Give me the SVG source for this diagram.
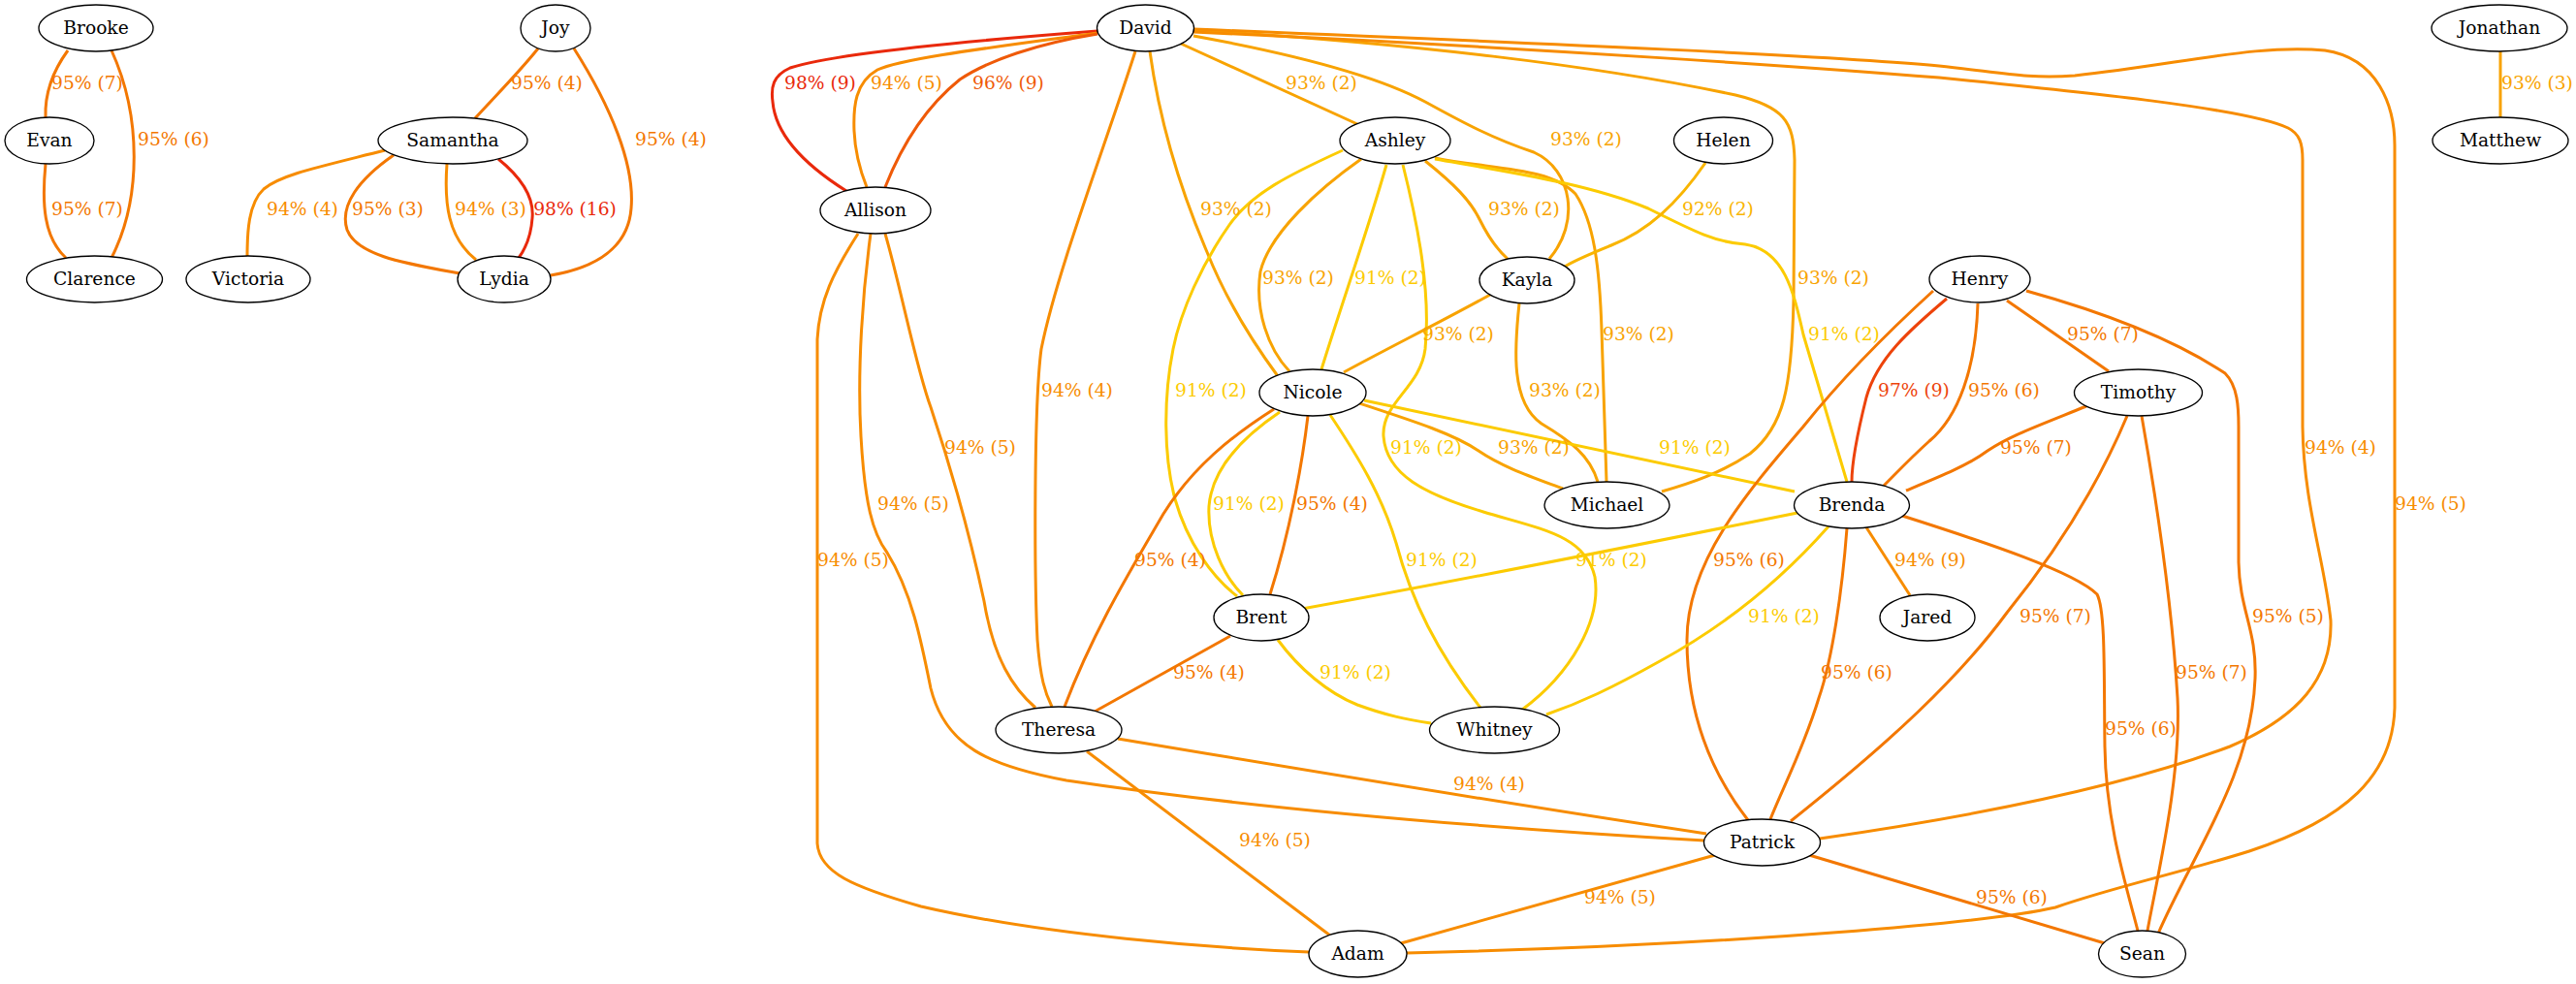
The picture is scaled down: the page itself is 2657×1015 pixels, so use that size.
<svg xmlns="http://www.w3.org/2000/svg" width="2657" height="1015" viewBox="0 0 2657 1015">
<style>
.n ellipse{fill:#fff;stroke:#000;stroke-width:1.33}
.n text{font-family:"DejaVu Serif",serif;font-size:18.67px;text-anchor:middle;fill:#000}
#edges path{fill:none;stroke-width:3}
#labels text{font-family:"DejaVu Serif",serif;font-size:18.67px;text-anchor:middle}
.c91{stroke:#fccb00}.c92{stroke:#f9b500}.c93{stroke:#f8a300}.c94{stroke:#f78c00}.c95{stroke:#f37700}.c96{stroke:#ef5a08}.c97{stroke:#ed430a}.c98{stroke:#e9290b}
.t91{fill:#fccb00}.t92{fill:#f9b500}.t93{fill:#f8a300}.t94{fill:#f78c00}.t95{fill:#f37700}.t96{fill:#ef5a08}.t97{fill:#ed430a}.t98{fill:#e9290b}
</style>
<rect width="2657" height="1015" fill="#fff"/>
<g id="edges">
<path class="c95" d="M70,52 C54,74 46,96 47,121"/>
<path class="c95" d="M115,52 C146,120 146,205 115,266"/>
<path class="c95" d="M47,169 C43,210 45,245 68,266"/>
<path class="c95" d="M555,50 C535,75 510,100 490,122"/>
<path class="c95" d="M592,50 C630,110 655,170 651,215 C648,255 615,276 568,284"/>
<path class="c94" d="M397,155 C330,172 290,180 272,195 C256,210 255,240 255,264"/>
<path class="c95" d="M406,160 C370,185 350,212 358,237 C368,264 420,272 474,282"/>
<path class="c94" d="M461,169 C458,210 462,245 491,268"/>
<path class="c98" d="M514,164 C540,185 551,205 549,225 C548,240 543,255 535,266"/>
<path class="c93" d="M2579,53 L2579,121"/>
<path class="c98" d="M1132,32 C1000,42 860,55 815,70 C797,78 795,90 797,105 C800,140 830,170 873,197"/>
<path class="c94" d="M1132,34 C1030,48 930,60 905,72 C882,85 880,110 881,135 C882,160 888,178 894,193"/>
<path class="c96" d="M1132,35 C1070,45 1020,62 990,82 C955,110 930,150 913,193"/>
<path class="c93" d="M1218,45 L1400,128"/>
<path class="c93" d="M1231,37 C1330,55 1420,78 1470,105 C1510,127 1540,143 1582,157 C1622,175 1630,230 1598,267"/>
<path class="c93" d="M1186,53 C1196,125 1215,190 1245,260 C1265,310 1290,350 1318,388"/>
<path class="c94" d="M1171,53 C1140,150 1090,280 1074,360 C1066,420 1067,600 1070,660 C1073,700 1078,715 1085,729"/>
<path class="c93" d="M1231,31 C1450,44 1650,68 1790,98 C1840,110 1850,125 1851,165 L1850,310 C1848,400 1840,440 1805,468 C1775,488 1745,498 1714,507"/>
<path class="c94" d="M1231,33 C1600,50 1900,72 2000,80 C2150,95 2318,112 2360,132 C2372,138 2375,148 2375,165 L2375,440 C2376,520 2398,580 2404,640 C2406,700 2370,740 2300,770 C2200,808 2050,840 1877,865"/>
<path class="c94" d="M1231,30 C1600,45 1900,58 2000,68 C2060,74 2090,82 2140,78 C2250,66 2330,45 2398,52 C2453,60 2470,110 2470,150 L2470,730 C2468,800 2420,845 2320,878 C2250,900 2180,915 2120,936 C2060,950 1800,975 1451,983"/>
<path class="c93" d="M1470,166 C1500,190 1517,207 1527,228 C1536,246 1545,258 1555,267"/>
<path class="c93" d="M1404,164 C1360,195 1310,240 1300,280 C1294,320 1308,360 1330,383"/>
<path class="c91" d="M1430,170 C1410,240 1385,310 1363,381"/>
<path class="c91" d="M1385,155 C1330,180 1290,200 1268,232 C1240,272 1218,320 1210,360 C1200,410 1200,470 1212,515 C1225,560 1250,595 1276,615"/>
<path class="c91" d="M1447,170 C1462,230 1476,300 1470,360 C1465,400 1425,415 1427,450 C1430,490 1470,510 1530,528 C1590,546 1635,552 1645,595 C1652,640 1620,695 1570,732"/>
<path class="c93" d="M1480,163 C1540,175 1598,172 1625,200 C1645,230 1650,280 1652,340 L1657,497"/>
<path class="c91" d="M1480,164 C1560,178 1640,190 1700,215 C1750,240 1770,250 1800,252 C1840,258 1850,300 1860,345 L1905,497"/>
<path class="c92" d="M1759,168 C1730,210 1700,238 1662,253 C1640,262 1625,268 1614,275"/>
<path class="c93" d="M1537,304 C1490,330 1430,360 1386,384"/>
<path class="c93" d="M1567,313 C1562,360 1558,415 1590,437 C1620,455 1640,470 1648,497"/>
<path class="c93" d="M1402,416 C1460,435 1500,448 1525,465 C1550,482 1580,492 1612,504"/>
<path class="c91" d="M1407,413 L1851,507"/>
<path class="c95" d="M1349,429 C1343,480 1330,550 1310,613"/>
<path class="c91" d="M1320,425 C1280,452 1250,485 1247,522 C1245,560 1263,595 1282,614"/>
<path class="c95" d="M1314,422 C1270,450 1230,482 1200,530 C1168,585 1128,650 1098,729"/>
<path class="c91" d="M1372,428 C1400,470 1425,510 1440,560 C1456,620 1482,672 1527,730"/>
<path class="c97" d="M2008,308 C1970,340 1936,370 1925,410 C1915,450 1910,480 1910,497"/>
<path class="c95" d="M2040,313 C2038,380 2020,430 1990,455 C1970,473 1956,488 1943,501"/>
<path class="c95" d="M2070,310 L2175,383"/>
<path class="c95" d="M1994,300 C1950,340 1900,390 1860,440 C1800,510 1740,580 1740,660 C1740,750 1775,810 1803,846"/>
<path class="c95" d="M2090,300 C2180,325 2250,355 2295,385 C2308,398 2309,420 2309,440 L2309,580 C2310,630 2328,650 2326,700 C2322,800 2262,880 2226,963"/>
<path class="c95" d="M2152,419 C2100,440 2072,450 2050,465 C2030,480 2000,492 1966,506"/>
<path class="c95" d="M2194,429 C2160,510 2112,580 2070,632 C2020,700 1950,765 1847,847"/>
<path class="c95" d="M2209,429 C2225,520 2240,620 2246,720 C2250,800 2226,900 2215,960"/>
<path class="c91" d="M1854,529 C1700,560 1500,600 1343,628"/>
<path class="c94" d="M1925,544 L1970,614"/>
<path class="c91" d="M1886,543 C1840,595 1780,645 1712,682 C1662,710 1630,725 1595,737"/>
<path class="c95" d="M1905,545 C1900,610 1890,680 1876,720 C1861,770 1840,810 1826,845"/>
<path class="c95" d="M1962,532 C2050,560 2140,590 2163,613 C2172,630 2170,700 2171,770 C2172,850 2195,920 2205,960"/>
<path class="c94" d="M913,241 C930,300 945,380 960,420 C980,480 1000,550 1015,620 C1025,680 1045,710 1068,730"/>
<path class="c94" d="M898,241 C890,300 884,380 888,450 C892,520 900,550 915,570 C940,610 950,660 960,710 C975,770 1020,790 1100,805 C1300,835 1550,855 1758,867"/>
<path class="c94" d="M885,241 C860,280 845,310 843,350 L843,870 C845,900 880,915 950,935 C1080,965 1250,978 1350,982"/>
<path class="c95" d="M1269,656 L1129,734"/>
<path class="c91" d="M1318,660 C1340,690 1370,715 1400,727 C1430,738 1450,742 1476,746"/>
<path class="c94" d="M1153,762 C1350,795 1560,830 1760,860"/>
<path class="c94" d="M1121,775 L1372,965"/>
<path class="c94" d="M1769,882 L1445,973"/>
<path class="c95" d="M1866,882 L2171,973"/>
</g>
<g id="labels">
<text class="t95" x="90" y="92">95% (7)</text>
<text class="t95" x="179" y="150">95% (6)</text>
<text class="t95" x="90" y="222">95% (7)</text>
<text class="t95" x="564" y="92">95% (4)</text>
<text class="t95" x="692" y="150">95% (4)</text>
<text class="t94" x="312" y="222">94% (4)</text>
<text class="t95" x="400" y="222">95% (3)</text>
<text class="t94" x="506" y="222">94% (3)</text>
<text class="t98" x="593" y="222">98% (16)</text>
<text class="t93" x="2617" y="92">93% (3)</text>
<text class="t98" x="846" y="92">98% (9)</text>
<text class="t94" x="935" y="92">94% (5)</text>
<text class="t96" x="1040" y="92">96% (9)</text>
<text class="t93" x="1363" y="92">93% (2)</text>
<text class="t93" x="1636" y="150">93% (2)</text>
<text class="t93" x="1275" y="222">93% (2)</text>
<text class="t93" x="1572" y="222">93% (2)</text>
<text class="t92" x="1772" y="222">92% (2)</text>
<text class="t93" x="1339" y="293">93% (2)</text>
<text class="t91" x="1434" y="293">91% (2)</text>
<text class="t93" x="1891" y="293">93% (2)</text>
<text class="t93" x="1504" y="351">93% (2)</text>
<text class="t93" x="1690" y="351">93% (2)</text>
<text class="t91" x="1902" y="351">91% (2)</text>
<text class="t95" x="2169" y="351">95% (7)</text>
<text class="t94" x="1111" y="409">94% (4)</text>
<text class="t91" x="1249" y="409">91% (2)</text>
<text class="t93" x="1614" y="409">93% (2)</text>
<text class="t97" x="1974" y="409">97% (9)</text>
<text class="t95" x="2067" y="409">95% (6)</text>
<text class="t94" x="1011" y="468">94% (5)</text>
<text class="t91" x="1471" y="468">91% (2)</text>
<text class="t93" x="1582" y="468">93% (2)</text>
<text class="t91" x="1748" y="468">91% (2)</text>
<text class="t95" x="2100" y="468">95% (7)</text>
<text class="t94" x="2414" y="468">94% (4)</text>
<text class="t94" x="942" y="526">94% (5)</text>
<text class="t91" x="1288" y="526">91% (2)</text>
<text class="t95" x="1374" y="526">95% (4)</text>
<text class="t94" x="2507" y="526">94% (5)</text>
<text class="t94" x="880" y="584">94% (5)</text>
<text class="t95" x="1207" y="584">95% (4)</text>
<text class="t91" x="1487" y="584">91% (2)</text>
<text class="t91" x="1662" y="584">91% (2)</text>
<text class="t95" x="1804" y="584">95% (6)</text>
<text class="t94" x="1991" y="584">94% (9)</text>
<text class="t91" x="1840" y="642">91% (2)</text>
<text class="t95" x="2120" y="642">95% (7)</text>
<text class="t95" x="2360" y="642">95% (5)</text>
<text class="t95" x="1247" y="700">95% (4)</text>
<text class="t91" x="1398" y="700">91% (2)</text>
<text class="t95" x="1915" y="700">95% (6)</text>
<text class="t95" x="2281" y="700">95% (7)</text>
<text class="t95" x="2208" y="758">95% (6)</text>
<text class="t94" x="1536" y="815">94% (4)</text>
<text class="t94" x="1315" y="873">94% (5)</text>
<text class="t94" x="1671" y="932">94% (5)</text>
<text class="t95" x="2075" y="932">95% (6)</text>
</g>
<g id="node-Brooke" class="n"><ellipse cx="99" cy="29" rx="59" ry="24"/><text x="99" y="35">Brooke</text></g>
<g id="node-Evan" class="n"><ellipse cx="51" cy="145" rx="46" ry="24"/><text x="51" y="151">Evan</text></g>
<g id="node-Clarence" class="n"><ellipse cx="97.5" cy="288" rx="70" ry="24"/><text x="97.5" y="294">Clarence</text></g>
<g id="node-Victoria" class="n"><ellipse cx="256" cy="288" rx="64" ry="24"/><text x="256" y="294">Victoria</text></g>
<g id="node-Samantha" class="n"><ellipse cx="467" cy="145" rx="77" ry="24"/><text x="467" y="151">Samantha</text></g>
<g id="node-Joy" class="n"><ellipse cx="573" cy="29" rx="36" ry="24"/><text x="573" y="35">Joy</text></g>
<g id="node-Lydia" class="n"><ellipse cx="520" cy="288" rx="48" ry="24"/><text x="520" y="294">Lydia</text></g>
<g id="node-David" class="n"><ellipse cx="1181.5" cy="29" rx="50" ry="24"/><text x="1181.5" y="35">David</text></g>
<g id="node-Allison" class="n"><ellipse cx="903" cy="217" rx="57" ry="24"/><text x="903" y="223">Allison</text></g>
<g id="node-Ashley" class="n"><ellipse cx="1439" cy="145" rx="57" ry="24"/><text x="1439" y="151">Ashley</text></g>
<g id="node-Helen" class="n"><ellipse cx="1777.5" cy="145" rx="51" ry="24"/><text x="1777.5" y="151">Helen</text></g>
<g id="node-Kayla" class="n"><ellipse cx="1575" cy="289" rx="49" ry="24"/><text x="1575" y="295">Kayla</text></g>
<g id="node-Henry" class="n"><ellipse cx="2042" cy="288" rx="52" ry="24"/><text x="2042" y="294">Henry</text></g>
<g id="node-Jonathan" class="n"><ellipse cx="2578" cy="29" rx="70" ry="24"/><text x="2578" y="35">Jonathan</text></g>
<g id="node-Matthew" class="n"><ellipse cx="2579" cy="145" rx="70" ry="24"/><text x="2579" y="151">Matthew</text></g>
<g id="node-Nicole" class="n"><ellipse cx="1354" cy="405" rx="55" ry="24"/><text x="1354" y="411">Nicole</text></g>
<g id="node-Timothy" class="n"><ellipse cx="2205.5" cy="405" rx="66" ry="24"/><text x="2205.5" y="411">Timothy</text></g>
<g id="node-Michael" class="n"><ellipse cx="1657.5" cy="521" rx="64.5" ry="24"/><text x="1657.5" y="527">Michael</text></g>
<g id="node-Brenda" class="n"><ellipse cx="1910" cy="521" rx="59.5" ry="24"/><text x="1910" y="527">Brenda</text></g>
<g id="node-Brent" class="n"><ellipse cx="1301" cy="637" rx="49" ry="24"/><text x="1301" y="643">Brent</text></g>
<g id="node-Jared" class="n"><ellipse cx="1988" cy="637" rx="49" ry="24"/><text x="1988" y="643">Jared</text></g>
<g id="node-Theresa" class="n"><ellipse cx="1092" cy="753" rx="65" ry="24"/><text x="1092" y="759">Theresa</text></g>
<g id="node-Whitney" class="n"><ellipse cx="1541.5" cy="753" rx="67" ry="24"/><text x="1541.5" y="759">Whitney</text></g>
<g id="node-Patrick" class="n"><ellipse cx="1817.5" cy="869" rx="60" ry="24"/><text x="1817.5" y="875">Patrick</text></g>
<g id="node-Adam" class="n"><ellipse cx="1400.5" cy="984" rx="50.5" ry="24"/><text x="1400.5" y="990">Adam</text></g>
<g id="node-Sean" class="n"><ellipse cx="2209.5" cy="984" rx="45" ry="24"/><text x="2209.5" y="990">Sean</text></g>
</svg>
